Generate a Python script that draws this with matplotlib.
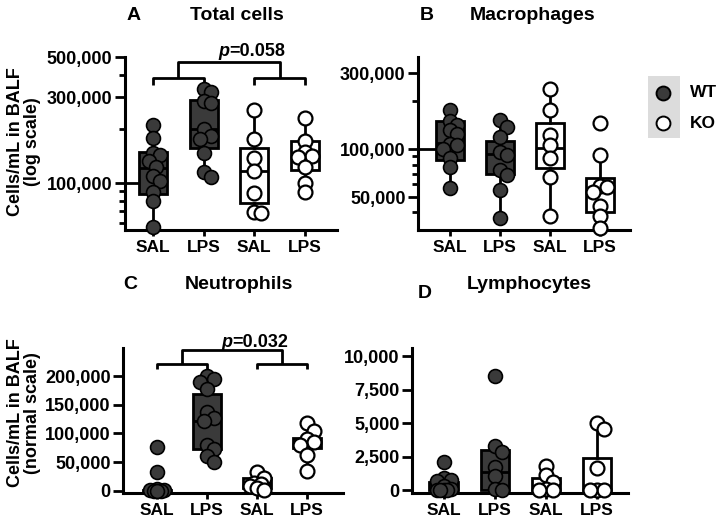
import numpy as np
import matplotlib.pyplot as plt
from matplotlib.patches import Rectangle
from matplotlib.lines import Line2D
from matplotlib.ticker import FuncFormatter, FixedLocator, NullFormatter

plt.rcParams['font.family'] = ['Liberation Sans', 'DejaVu Sans']
plt.rcParams['font.weight'] = 'bold'

groups = ['SAL', 'LPS', 'SAL', 'LPS']
genotype = ['WT', 'WT', 'KO', 'KO']

# A - total cells (log scale)
tot_wt_sal = [210e3, 178e3, 147e3, 144e3, 133e3, 123e3, 110e3, 103e3, 89e3, 80e3, 57e3]
tot_wt_lps = [333e3, 320e3, 285e3, 278e3, 200e3, 182e3, 176e3, 147e3, 115e3, 108e3]
tot_ko_sal = [254e3, 176e3, 138e3, 117e3, 88e3, 69e3, 68e3]
tot_ko_lps = [230e3, 171e3, 149e3, 141e3, 139e3, 123e3, 100e3, 89e3]
tot_q1 = [87e3, 156e3, 78e3, 118e3]
tot_med = [121e3, 200e3, 117e3, 138e3]
tot_q3 = [149e3, 289e3, 156e3, 171e3]
tot_whi = [210e3, 333e3, 254e3, 230e3]

# B - macrophages (log scale)
mac_wt_sal = [176e3, 150e3, 142e3, 132e3, 125e3, 108e3, 106e3, 100e3, 88e3, 77e3, 57e3]
mac_wt_lps = [152e3, 138e3, 119e3, 96e3, 92e3, 74e3, 69e3, 55e3, 37e3]
mac_ko_sal = [238e3, 176e3, 122e3, 106e3, 88e3, 67e3, 38e3]
mac_ko_lps = [146e3, 92e3, 59e3, 58e3, 54e3, 44e3, 38e3, 32e3]
mac_q1 = [86e3, 70e3, 76e3, 40e3]
mac_med = [109e3, 93e3, 102e3, 55e3]
mac_q3 = [150e3, 112e3, 146e3, 66e3]
mac_whi = [176e3, 152e3, 238e3, 92e3]

# C - neutrophils
neu_wt_sal = [76e3, 33e3, 3e3, 1.5e3, 800, 300, 0, 0]
neu_wt_lps = [201e3, 195e3, 190e3, 178e3, 138e3, 127e3, 121e3, 80e3, 73e3, 61e3, 51e3]
neu_ko_sal = [33e3, 22e3, 14e3, 12e3, 9e3, 5e3, 2e3]
neu_ko_lps = [118e3, 105e3, 90e3, 85e3, 80e3, 63e3, 34e3]
neu_q1 = [0, 73e3, 4e3, 74e3]
neu_med = [500, 121e3, 12e3, 83e3]
neu_q3 = [2e3, 169e3, 22e3, 92e3]
neu_whi = [3e3, 201e3, 33e3, 118e3]

# D - lymphocytes
lym_wt_sal = [2150, 900, 800, 700, 300, 100, 0, 0, 0, 0]
lym_wt_lps = [8500, 3300, 2900, 1750, 1050, 100, 0]
lym_ko_sal = [1800, 1150, 600, 100, 0, 0]
lym_ko_lps = [5000, 4600, 1700, 0, 0, 0]
lym_q1 = [0, 0, 0, 0]
lym_med = [100, 1400, 300, 100]
lym_q3 = [620, 3000, 950, 2450]
lym_whi = [900, 3300, 1800, 5000]

DARK = '#3a3a3a'
MS = 10
diam = MS * 100 / 72.0
TICK_FS = 13

fig = plt.figure(figsize=(7.2, 5.19), dpi=100)


def swarm_x(ax, xc, vals, max_off=10):
    pix = ax.transData.transform(np.column_stack([np.full(len(vals), xc), vals]))
    x0 = pix[0, 0]
    step = diam * 0.25
    cands = [0.0]
    k = 1
    while k * step <= max_off:
        cands += [k * step, -k * step]
        k += 1
    placed = []
    xs = []
    for y in pix[:, 1]:
        best, bestd = None, -1
        for dx in cands:
            d = min([np.hypot(dx - px, y - py) for px, py in placed] or [1e9])
            if d >= 0.6 * diam:
                best = dx
                break
            if d > bestd:
                best, bestd = dx, d
        placed.append((best, y))
        xs.append(x0 + best)
    back = ax.transData.inverted().transform(np.column_stack([xs, pix[:, 1]]))
    return back[:, 0]


def panel(rect, series, q1, med, q3, whi, ylim, xlim, log=False):
    ax = fig.add_axes(rect)
    if log:
        ax.set_yscale('log')
    ax.set_ylim(*ylim)
    ax.set_xlim(*xlim)
    stats = []
    for i, pts in enumerate(series):
        stats.append(dict(med=med[i], q1=q1[i], q3=q3[i],
                          whislo=min(pts), whishi=whi[i], fliers=[]))
    bp = ax.bxp(stats, positions=[1, 2, 3, 4], widths=0.55, patch_artist=True,
                showcaps=False, showfliers=False,
                boxprops=dict(linewidth=2, edgecolor='black'),
                whiskerprops=dict(linewidth=2, color='black'),
                medianprops=dict(linewidth=2, color='black'))
    for i, b in enumerate(bp['boxes']):
        b.set_facecolor(DARK if genotype[i] == 'WT' else 'white')
        b.set_zorder(2)
    for i, pts in enumerate(series):
        xs = swarm_x(ax, i + 1, pts)
        fc = DARK if genotype[i] == 'WT' else 'white'
        ax.plot(xs, pts, 'o', ms=MS, mfc=fc, mec='black',
                mew=1.2 if genotype[i] == 'WT' else 1.6, ls='none',
                zorder=3, clip_on=False)
    for s in ['top', 'right']:
        ax.spines[s].set_visible(False)
    for s in ['left', 'bottom']:
        ax.spines[s].set_linewidth(2.2)
    ax.set_xticks([1, 2, 3, 4])
    ax.set_xticklabels(groups, fontsize=12.5, fontweight='bold')
    ax.tick_params(axis='x', length=4, width=2, pad=3)
    ax.tick_params(axis='y', which='major', length=7, width=2, labelsize=TICK_FS, pad=2)
    ax.tick_params(axis='y', which='minor', length=4.5, width=2)
    ax.yaxis.set_major_formatter(FuncFormatter(lambda v, p: f'{int(round(v)):,}'))
    return ax


def bracket(ax, y_small, y_leg, y_big, y_text, ptxt):
    kw = dict(color='black', lw=2, clip_on=False, solid_capstyle='butt')
    for a, b in [(1, 2), (3, 4)]:
        ax.plot([a, a, b, b], [y_leg, y_small, y_small, y_leg], **kw)
    ax.plot([1.5, 1.5, 3.5, 3.5], [y_small, y_big, y_big, y_small], **kw)
    ax.text(2.5, y_text, 'p', style='italic', fontsize=13, fontweight='bold',
            ha='right', va='center')
    ax.text(2.5, y_text, ptxt, fontsize=13, fontweight='bold',
            ha='left', va='center')


# A
axA = panel([0.1736, 0.5568, 0.2944, 0.3332],
            [tot_wt_sal, tot_wt_lps, tot_ko_sal, tot_ko_lps],
            tot_q1, tot_med, tot_q3, tot_whi, (55e3, 5e5), (0.45, 4.63), log=True)
axA.yaxis.set_major_locator(FixedLocator([1e5, 3e5, 5e5]))
axA.yaxis.set_minor_locator(FixedLocator([6e4, 7e4, 8e4, 9e4, 2e5, 4e5]))
axA.yaxis.set_minor_formatter(NullFormatter())
axA.plot([0.45, 1 - 0.275], [1e5, 1e5], color='black', lw=2, zorder=1)
bracket(axA, 383e3, 350e3, 470e3, 540e3, '=0.058')

# B
axB = panel([0.5806, 0.5568, 0.2944, 0.3332],
            [mac_wt_sal, mac_wt_lps, mac_ko_sal, mac_ko_lps],
            mac_q1, mac_med, mac_q3, mac_whi, (31e3, 3.8e5), (0.36, 4.6), log=True)
axB.yaxis.set_major_locator(FixedLocator([5e4, 1e5, 3e5]))
axB.yaxis.set_minor_locator(FixedLocator([4e4, 6e4, 7e4, 8e4, 9e4, 2e5]))
axB.yaxis.set_minor_formatter(NullFormatter())
axB.plot([0.36, 1 - 0.275], [1e5, 1e5], color='black', lw=2, zorder=1)

# C
axC = panel([0.171, 0.050, 0.3056, 0.2795],
            [neu_wt_sal, neu_wt_lps, neu_ko_sal, neu_ko_lps],
            neu_q1, neu_med, neu_q3, neu_whi, (-4e3, 249e3), (0.32, 4.72))
axC.set_yticks([0, 50e3, 100e3, 150e3, 200e3])
bracket(axC, 221e3, 212e3, 245e3, 258e3, '=0.032')

# D
axD = panel([0.572, 0.050, 0.300, 0.2795],
            [lym_wt_sal, lym_wt_lps, lym_ko_sal, lym_ko_lps],
            lym_q1, lym_med, lym_q3, lym_whi, (-190, 10600), (0.38, 4.6))
axD.set_yticks([0, 2500, 5000, 7500, 10000])

# titles
TF = 14
fig.text(0.185, 0.971, 'A', fontsize=TF, fontweight='bold', ha='center', va='center')
fig.text(0.329, 0.971, 'Total cells', fontsize=TF, fontweight='bold', ha='center', va='center')
fig.text(0.593, 0.971, 'B', fontsize=TF, fontweight='bold', ha='center', va='center')
fig.text(0.739, 0.971, 'Macrophages', fontsize=TF, fontweight='bold', ha='center', va='center')
fig.text(0.181, 0.451, 'C', fontsize=TF, fontweight='bold', ha='center', va='center')
fig.text(0.332, 0.451, 'Neutrophils', fontsize=TF, fontweight='bold', ha='center', va='center')
fig.text(0.590, 0.435, 'D', fontsize=TF, fontweight='bold', ha='center', va='center')
fig.text(0.735, 0.451, 'Lymphocytes', fontsize=TF, fontweight='bold', ha='center', va='center')

# y labels
fig.text(0.034, 0.728, 'Cells/mL in BALF\n(log scale)', rotation=90, fontsize=13,
         fontweight='bold', ha='center', va='center', linespacing=1.0)
fig.text(0.034, 0.205, 'Cells/mL in BALF\n(normal scale)', rotation=90, fontsize=13,
         fontweight='bold', ha='center', va='center', linespacing=1.0)

# legend
fig.add_artist(Rectangle((0.900, 0.734), 0.044, 0.120, transform=fig.transFigure,
                         facecolor='#dcdcdc', edgecolor='none'))
for yy, fc, lab in [(0.821, DARK, 'WT'), (0.763, 'white', 'KO')]:
    fig.add_artist(Line2D([0.921], [yy], marker='o', ms=MS, mfc=fc, mec='black',
                          mew=1.4, ls='none', transform=fig.transFigure))
    fig.text(0.958, yy, lab, fontsize=12.5, fontweight='bold', va='center', ha='left')

fig.savefig('out.png', dpi=100)
